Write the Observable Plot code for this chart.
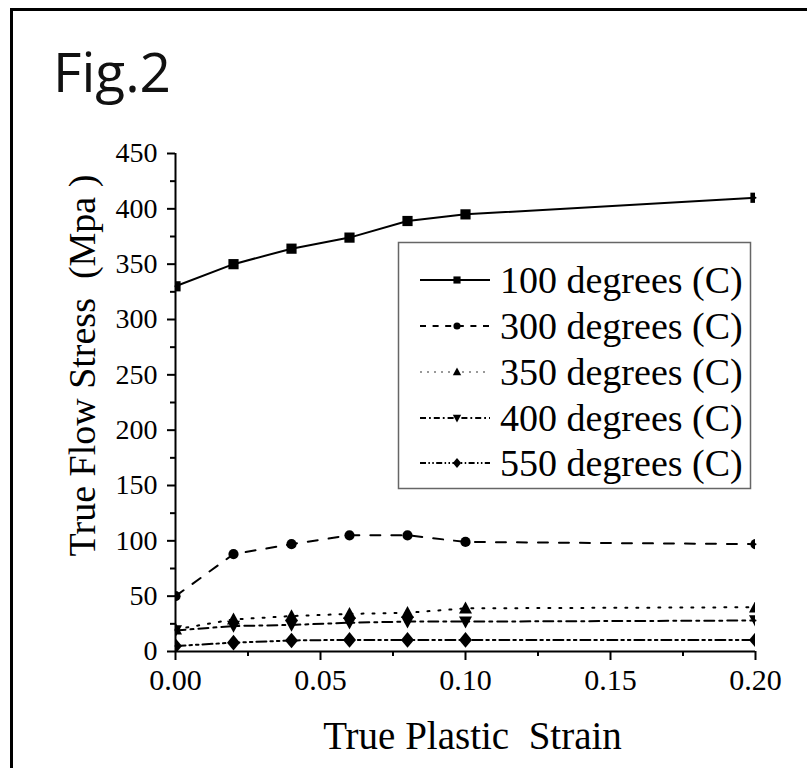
<!DOCTYPE html>
<html>
<head>
<meta charset="utf-8">
<script src="https://cdn.jsdelivr.net/npm/d3@7"></script>
<script src="https://cdn.jsdelivr.net/npm/@observablehq/plot@0.6"></script>
<style>
  html, body { margin: 0; padding: 0; background: #fff; }
  #wrap { position: relative; width: 807px; height: 768px; overflow: hidden; }
  #frame { position: absolute; left: 10px; top: 8px; width: 820px; height: 800px;
           border-left: 3px solid #000; border-top: 3px solid #000; box-sizing: border-box; }
  #chart { position: absolute; left: 0; top: 0; }
  .overlay { position: absolute; left: 0; top: 0; pointer-events: none; }
</style>
</head>
<body>
<div id="wrap">
  <div id="frame"></div>
  <div id="chart"></div>
</div>
<script>
// ---- data ----
const strain = [0, 0.02, 0.04, 0.06, 0.08, 0.10, 0.20];
const seriesNames = ["100 degrees (C)", "300 degrees (C)", "350 degrees (C)", "400 degrees (C)", "550 degrees (C)"];
const s100 = [330, 350, 364, 374, 389, 395, 410];
const s300 = [50, 88, 97, 105, 105, 99, 97];
const s350 = [20, 29, 32, 34, 35, 39, 40];
const s400 = [19, 23, 24, 26, 27, 27, 28];
const s550 = [5, 8, 10, 10.5, 10.5, 10.5, 10.5];
const yTicks = [0, 50, 100, 150, 200, 250, 300, 350, 400, 450];
const yMinor = [25, 75, 125, 175, 225, 275, 325, 375, 425];
const xTicks = [0, 0.05, 0.10, 0.15, 0.20];
const xMinor = [0.025, 0.075, 0.125, 0.175];
const titleText = "Fig.2";
const xLabel = "True Plastic  Strain";
const yLabel = "True Flow Stress  (Mpa )";

const values = [s100, s300, s350, s400, s550];
const rows = [];
values.forEach((vals, i) => vals.forEach((v, j) => rows.push({series: seriesNames[i], strain: strain[j], stress: v})));

// ---- marker symbols ----
const sq = {draw(c, s) { const r = Math.sqrt(s / Math.PI) * 0.85; c.rect(-r, -r, 2 * r, 2 * r); }};
const circ = {draw(c, s) { const r = Math.sqrt(s / Math.PI) * 0.85; c.moveTo(r, 0); c.arc(0, 0, r, 0, 2 * Math.PI); }};
const triUp = {draw(c, s) { const r = Math.sqrt(s / Math.PI); c.moveTo(0, -r * 1.05); c.lineTo(r, r * 0.8); c.lineTo(-r, r * 0.8); c.closePath(); }};
const triDown = {draw(c, s) { const r = Math.sqrt(s / Math.PI); c.moveTo(0, r * 1.05); c.lineTo(r, -r * 0.8); c.lineTo(-r, -r * 0.8); c.closePath(); }};
const diam = {draw(c, s) { const r = Math.sqrt(s / Math.PI); c.moveTo(0, -r * 1.2); c.lineTo(r, 0); c.lineTo(0, r * 1.2); c.lineTo(-r, 0); c.closePath(); }};
const symbols = [sq, circ, triUp, triDown, diam];
const dashes = [null, "10,11", "2,9", "10,5,3,5", "10,4,2.5,4,2.5,4"];
const markerR = [6, 6, 6.5, 6.5, 6.5];

const serif = "'Liberation Serif', 'Times New Roman', serif";

const marks = [
  Plot.axisY({ticks: yTicks, tickSize: 8, tickPadding: 10, strokeWidth: 2, fontSize: 28, label: null, tickFormat: d => String(d)}),
  Plot.axisY({ticks: yMinor, tickSize: 5, strokeWidth: 2, label: null, tickFormat: () => ""}),
  Plot.axisX({ticks: xTicks, tickSize: 9, tickPadding: 8, strokeWidth: 2, fontSize: 30, label: null, tickFormat: d3.format(".2f")}),
  Plot.axisX({ticks: xMinor, tickSize: 5, strokeWidth: 2, label: null, tickFormat: () => ""}),
  Plot.ruleX([0], {stroke: "black", strokeWidth: 2}),
  Plot.ruleY([0], {stroke: "black", strokeWidth: 2})
];
seriesNames.forEach((name, i) => {
  const d = rows.filter(r => r.series === name);
  marks.push(Plot.line(d, {x: "strain", y: "stress", stroke: "black", strokeWidth: 2, strokeDasharray: dashes[i] || undefined}));
  marks.push(Plot.dot(d, {x: "strain", y: "stress", symbol: symbols[i], r: markerR[i], fill: "black", stroke: "none", clip: "frame"}));
});
marks.push(Plot.text([xLabel], {frameAnchor: "bottom", lineAnchor: "bottom", textAnchor: "middle", dx: 7, dy: 97, fontSize: 39, fontFamily: serif, fill: "black"}));
marks.push(Plot.text([yLabel], {frameAnchor: "left", textAnchor: "middle", rotate: -90, dx: -93, dy: -37, fontSize: 38, fontFamily: serif, fill: "black"}));

const chart = Plot.plot({
  width: 807, height: 768,
  marginLeft: 175, marginRight: 52, marginTop: 153, marginBottom: 117,
  x: {domain: [0, 0.2]},
  y: {domain: [0, 450]},
  style: {fontFamily: serif, background: "transparent", color: "black", fontSize: "29px", overflow: "visible"},
  marks
});
document.getElementById("chart").appendChild(chart);

// ---- title + legend overlay ----
const ov = d3.select("#wrap").append("svg").attr("class", "overlay").attr("width", 807).attr("height", 768);
ov.append("text").attr("x", 53).attr("y", 92).attr("font-family", "'Open Sans', 'Noto Sans', sans-serif")
  .attr("font-size", 55).attr("fill", "#111").text(titleText);

const lg = ov.append("g").attr("transform", "translate(398,242)");
lg.append("rect").attr("x", 0.5).attr("y", 0.5).attr("width", 352).attr("height", 246)
  .attr("fill", "white").attr("stroke", "#666").attr("stroke-width", 1.5);
const rowY = [38, 84, 130, 176, 221];
seriesNames.forEach((name, i) => {
  const g = lg.append("g").attr("transform", `translate(0,${rowY[i]})`);
  g.append("line").attr("x1", 22).attr("x2", 92).attr("y1", 0).attr("y2", 0)
    .attr("stroke", i === 2 ? "#999" : "black").attr("stroke-width", 2).attr("stroke-dasharray", dashes[i] ? (i === 2 ? "2,5" : dashes[i].split(",").map(v => +v * 0.6).join(",")) : null);
  g.append("path").attr("transform", "translate(59,0)")
    .attr("d", d3.symbol(symbols[i], Math.PI * 4.2 * 4.2)()).attr("fill", "black");
  g.append("text").attr("x", 102).attr("y", 0).attr("dy", "0.34em").attr("font-family", serif)
    .attr("font-size", 38).attr("fill", "black").text(name);
});
</script>
</body>
</html>
